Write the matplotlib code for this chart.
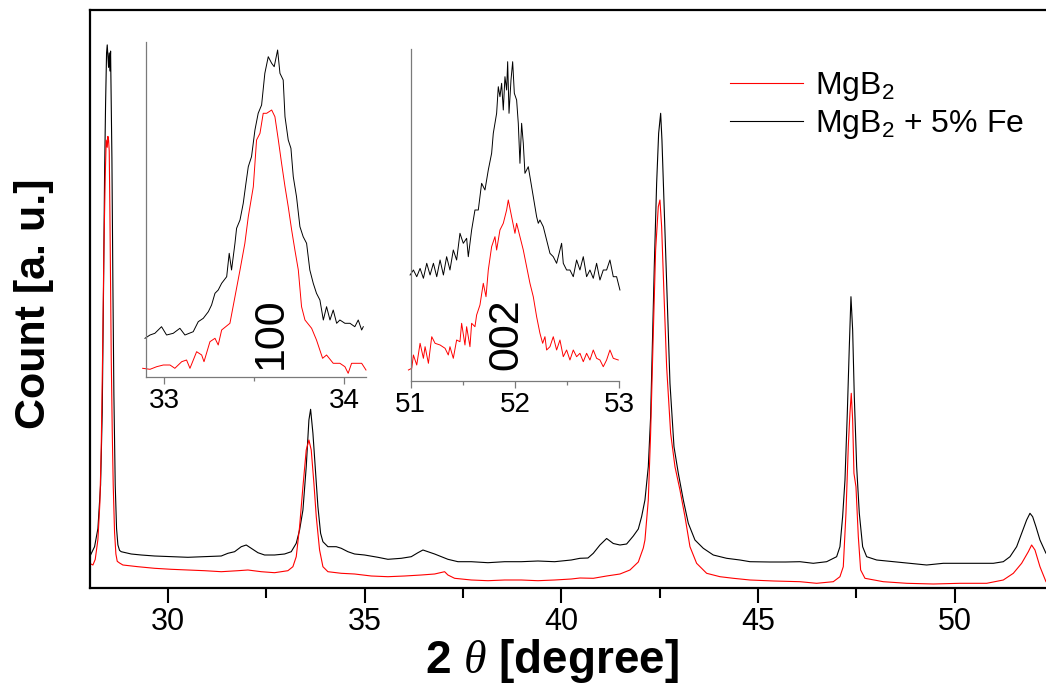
import matplotlib
matplotlib.use("Agg")
import matplotlib.pyplot as plt
from matplotlib.ticker import MultipleLocator

# ---- main pattern (2theta in degree, count in arb. units) ----
tt_fe = [28.034, 28.136, 28.221, 28.289, 28.331, 28.365, 28.390, 28.416, 28.441, 28.458,
         28.492, 28.509, 28.526, 28.543, 28.560, 28.577, 28.602, 28.627, 28.661, 28.695,
         28.729, 28.771, 28.814, 29.068, 29.322, 29.661, 30.085, 30.508, 30.932, 31.356,
         31.525, 31.695, 31.864, 31.991, 32.118, 32.288, 32.457, 32.711, 32.966, 33.135,
         33.262, 33.347, 33.432, 33.516, 33.584, 33.627, 33.686, 33.754, 33.813, 33.881,
         33.940, 34.067, 34.279, 34.406, 34.575, 34.745, 34.999, 35.338, 35.592, 35.931,
         36.185, 36.355, 36.482, 36.609, 36.779, 36.948, 37.117, 37.372, 37.711, 38.134,
         38.558, 38.982, 39.405, 39.829, 40.253, 40.473, 40.676, 40.812, 40.981, 41.151,
         41.320, 41.490, 41.659, 41.829, 41.956, 42.040, 42.125, 42.210, 42.269, 42.320,
         42.362, 42.422, 42.473, 42.524, 42.557, 42.608, 42.676, 42.761, 42.863, 42.973,
         43.100, 43.227, 43.396, 43.608, 43.862, 44.201, 44.540, 44.794, 45.300, 45.700,
         46.065, 46.403, 46.743, 46.997, 47.081, 47.149, 47.209, 47.268, 47.319, 47.361,
         47.404, 47.446, 47.506, 47.573, 47.658, 47.760, 48.014, 48.438, 48.861, 49.285,
         49.709, 50.132, 50.556, 50.980, 51.233, 51.403, 51.572, 51.699, 51.826, 51.911,
         51.979, 52.063, 52.165, 52.318, 52.420]
cnt_fe = [33, 41.3, 59.4, 103, 175.6, 302.7, 411.6, 484.3, 535.1, 543.1,
          520.6, 535.1, 517, 536.9, 484.3, 429.8, 302.7, 193.8, 103, 59.4,
          43.1, 37.6, 36.3, 34, 33, 32, 31.3, 30.7, 31.3, 32,
          34.7, 36.3, 41.3, 43, 39.7, 35.3, 33, 33, 34, 36.3,
          44.7, 58, 78, 121.3, 168, 178.7, 154.7, 114.7, 81.3, 54.7,
          46.3, 41.3, 41.3, 39.7, 36.3, 34, 33, 30.7, 28.7, 29.7,
          31.3, 35.3, 38, 36.3, 34, 31.3, 28.7, 26.3, 26.3, 25.3,
          26.3, 26.3, 27, 26.3, 28, 29.7, 30, 34.7, 43, 49.5,
          44.5, 43, 44, 52, 59, 71.3, 88, 121.3, 171.3, 254.7,
          321.3, 404.7, 454.7, 474.7, 448, 388, 304.7, 204.7, 141.3, 114.7,
          88, 64.7, 48, 39.7, 33, 29.7, 28, 26.3, 26, 26,
          26.3, 24.7, 26.3, 31.3, 41.3, 71.3, 108, 174.7, 241.3, 291.3,
          258, 191.3, 121.3, 74.7, 41.3, 31.3, 28, 26.3, 24.7, 23,
          24.7, 24.7, 24.7, 24.7, 26.3, 31.3, 41.3, 54.7, 68, 74.7,
          71.3, 61.3, 48, 34.7, 33]

tt_pure = [28.009, 28.094, 28.153, 28.221, 28.271, 28.305, 28.339, 28.373, 28.407, 28.432,
           28.458, 28.475, 28.492, 28.509, 28.526, 28.543, 28.560, 28.585, 28.610, 28.644,
           28.678, 28.712, 28.771, 28.856, 29.237, 29.661, 30.085, 30.508, 30.932, 31.356,
           31.779, 32.034, 32.372, 32.711, 33.050, 33.177, 33.262, 33.347, 33.432, 33.516,
           33.584, 33.643, 33.711, 33.771, 33.855, 33.940, 34.067, 34.406, 34.745, 35.169,
           35.592, 36.016, 36.440, 36.779, 37.033, 37.117, 37.287, 37.711, 38.134, 38.558,
           38.982, 39.405, 39.829, 40.253, 40.473, 40.812, 41.151, 41.490, 41.744, 41.956,
           42.083, 42.125, 42.210, 42.269, 42.337, 42.396, 42.464, 42.506, 42.549, 42.608,
           42.676, 42.778, 42.888, 43.015, 43.142, 43.269, 43.438, 43.693, 44.032, 44.371,
           44.794, 45.400, 46.065, 46.488, 46.912, 47.081, 47.166, 47.234, 47.293, 47.335,
           47.369, 47.404, 47.437, 47.488, 47.548, 47.607, 47.717, 48.183, 48.777, 49.455,
           50.132, 50.811, 51.233, 51.488, 51.699, 51.869, 51.953, 52.038, 52.165, 52.318,
           52.420]
cnt_pure = [24.7, 23, 28.6, 48.5, 84.8, 139.3, 230.1, 339, 411.6, 447.9,
            440.7, 451.6, 447.9, 437, 375.3, 302.7, 230.1, 157.5, 103, 55.8,
            34, 26.7, 25, 23, 21.3, 19.7, 18.7, 18, 17.3, 16.3,
            17.3, 18, 16.3, 15.3, 17.3, 21.3, 31.3, 61.3, 101.3, 138,
            148, 138, 104.7, 71.3, 38, 21.3, 16.3, 14.7, 14, 12,
            11.3, 12, 13, 14, 16.3, 13, 9.7, 8, 7.3, 8,
            8, 7.3, 8, 9, 10, 9.7, 12, 14, 18, 26,
            40, 48, 88, 154.7, 254.7, 338, 381.3, 388, 361.3, 294.7,
            221.3, 154.7, 121.3, 98, 71.3, 41.3, 24.7, 14.7, 11.3, 9.7,
            8, 7, 6.3, 4.7, 6.3, 11.3, 21.3, 74.7, 141.3, 174.7,
            194.7, 168, 114.7, 101.3, 51.3, 18, 9.7, 6.3, 4.7, 4,
            4.7, 4.7, 8, 14.7, 24.7, 36.3, 43, 38, 21.3, 6.3,
            4]

# ---- inset (100) ----
in1_tt_fe = [32.893, 32.921, 32.948, 32.985, 33.013, 33.050, 33.087, 33.115, 33.161, 33.189,
             33.217, 33.245, 33.263, 33.282, 33.300, 33.319, 33.347, 33.361, 33.374, 33.393,
             33.402, 33.421, 33.439, 33.454, 33.467, 33.485, 33.504, 33.522, 33.541, 33.559,
             33.578, 33.597, 33.611, 33.630, 33.643, 33.661, 33.671, 33.689, 33.704, 33.717,
             33.735, 33.754, 33.772, 33.791, 33.809, 33.828, 33.846, 33.865, 33.884, 33.902,
             33.921, 33.939, 33.958, 33.976, 34.004, 34.032, 34.059, 34.078, 34.097, 34.106]
in1_cnt_fe = [38.7, 42, 43.7, 50.3, 42, 43.7, 48.7, 42, 45.3, 55.3,
              58.7, 65.3, 72, 83.7, 87, 93.7, 100.3, 123.7, 107, 133.7,
              148.7, 157, 173.7, 193.7, 210.3, 220.3, 247, 263.7, 272, 303.7,
              320.3, 313.7, 310.3, 327, 303.7, 297, 260.3, 237, 228.7, 200.3,
              180.3, 150.3, 140.3, 133.7, 107, 93.7, 83.7, 77, 57, 70.3,
              57, 67, 53.7, 57, 53.7, 53.7, 50.3, 57, 47, 50.3]
in1_tt_pure = [32.880, 32.921, 32.958, 32.995, 33.032, 33.059, 33.097, 33.124, 33.143, 33.180,
               33.208, 33.221, 33.254, 33.282, 33.300, 33.319, 33.365, 33.393, 33.421, 33.448,
               33.467, 33.495, 33.513, 33.532, 33.550, 33.569, 33.597, 33.615, 33.634, 33.652,
               33.671, 33.689, 33.708, 33.726, 33.745, 33.763, 33.782, 33.819, 33.846, 33.880,
               33.902, 33.939, 33.976, 34.004, 34.022, 34.041, 34.069, 34.097, 34.121]
in1_cnt_pure = [8.7, 7.7, 10.3, 12, 12, 8.7, 15.3, 17, 8.7, 25.3,
                22, 15.3, 35.3, 38.7, 32, 47, 53.7, 80.3, 107, 133.7,
                160.3, 190.3, 237, 243.7, 263.7, 263.7, 267, 260.3, 237, 213.7,
                190.3, 170.3, 147, 127, 107, 70.3, 57, 48.7, 37, 18.7,
                22, 13.7, 13.7, 10.3, 3.7, 13.7, 13.7, 13.7, 7]

# ---- inset (002) ----
in2_tt_fe = [50.994, 51.026, 51.058, 51.090, 51.122, 51.154, 51.186, 51.218, 51.250, 51.282,
             51.314, 51.345, 51.377, 51.409, 51.441, 51.473, 51.505, 51.537, 51.553, 51.585,
             51.617, 51.649, 51.681, 51.713, 51.745, 51.777, 51.793, 51.825, 51.841, 51.857,
             51.873, 51.889, 51.905, 51.921, 51.931, 51.944, 51.963, 51.979, 51.995, 52.017,
             52.033, 52.049, 52.065, 52.081, 52.097, 52.129, 52.161, 52.177, 52.209, 52.225,
             52.241, 52.273, 52.305, 52.337, 52.369, 52.401, 52.433, 52.449, 52.465, 52.497,
             52.529, 52.561, 52.593, 52.625, 52.657, 52.689, 52.721, 52.753, 52.785, 52.817,
             52.849, 52.881, 52.913, 52.945, 52.977, 53.009]
in2_cnt_fe = [105.7, 110.7, 104, 112.3, 102.4, 117.4, 105.7, 117.4, 104, 120.7,
              105.7, 124, 110.7, 130.7, 120.7, 147.4, 137.4, 142.4, 124, 150.7,
              170.7, 170.7, 197.4, 190.7, 210.7, 227.4, 247.4, 267.4, 294, 284,
              297.4, 270.7, 304, 290.7, 319, 267.4, 300.7, 319, 287.4, 280.7,
              257.4, 217.4, 257.4, 237.4, 207.4, 214, 194, 184, 164, 157.4,
              160.7, 154, 140.7, 127.4, 124, 117.4, 130.7, 137.4, 117.4, 110.7,
              110.7, 104, 120.7, 110.7, 124, 104, 110.7, 102.4, 117.4, 100.7,
              110.7, 110.7, 120.7, 104, 104, 90.7]
in2_tt_pure = [50.978, 51.010, 51.026, 51.058, 51.090, 51.122, 51.138, 51.170, 51.202, 51.234,
               51.282, 51.330, 51.361, 51.377, 51.409, 51.441, 51.473, 51.489, 51.521, 51.537,
               51.569, 51.585, 51.617, 51.633, 51.665, 51.697, 51.723, 51.745, 51.777, 51.809,
               51.825, 51.857, 51.889, 51.921, 51.937, 51.969, 52.001, 52.017, 52.049, 52.081,
               52.113, 52.145, 52.177, 52.209, 52.241, 52.267, 52.289, 52.305, 52.337, 52.369,
               52.401, 52.433, 52.465, 52.497, 52.529, 52.561, 52.593, 52.625, 52.657, 52.689,
               52.721, 52.753, 52.785, 52.817, 52.849, 52.881, 52.913, 52.945, 52.993]
in2_cnt_pure = [10.7, 12.4, 25.7, 15.7, 37.4, 22.4, 34, 17.4, 44, 37.4,
                35.7, 32.4, 25.7, 34, 22.4, 40.7, 39, 57.4, 35.7, 54,
                34, 57.4, 54, 65.7, 75.7, 97.4, 84, 110.7, 134, 144,
                130.7, 150.7, 157.4, 170.7, 180.7, 164, 147.4, 157.4, 144, 130.7,
                114, 97.4, 84, 64, 47.4, 37.4, 44, 30.7, 34, 44,
                30.7, 40.7, 24, 30.7, 20.7, 30.7, 24, 27.4, 19, 27.4,
                20.7, 30.7, 22.4, 20.7, 14, 20.7, 30.7, 22.4, 20.7]

labels = ['MgB$_2$', 'MgB$_2$ + 5% Fe']

plt.rcParams['font.family'] = ['Liberation Sans', 'DejaVu Sans']
plt.rcParams['mathtext.fontset'] = 'custom'
plt.rcParams['mathtext.rm'] = 'Liberation Sans'
plt.rcParams['mathtext.it'] = 'Liberation Serif:italic'
plt.rcParams['mathtext.bf'] = 'Liberation Sans:bold'
plt.rcParams['mathtext.default'] = 'regular'

W, H = 1046, 686
fig = plt.figure(figsize=(W / 100, H / 100), dpi=100)

# main axes, right edge runs off the picture like the original crop
ax = fig.add_axes([90 / W, 98 / H, 960 / W, 578 / H])
l_fe, = ax.plot(tt_fe, cnt_fe, color='black', lw=0.8)
l_pure, = ax.plot(tt_pure, cnt_pure, color='red', lw=0.8)
ax.set_xlim(28.02, 52.42)
ax.set_ylim(0, 578)
ax.xaxis.set_major_locator(MultipleLocator(5))
ax.xaxis.set_minor_locator(MultipleLocator(2.5))
ax.tick_params(axis='x', which='major', direction='out', length=11, width=1.5,
               labelsize=22, pad=3)
ax.tick_params(axis='x', which='minor', direction='out', length=7, width=1.5)
ax.tick_params(axis='y', left=False, labelleft=False)
for s in ax.spines.values():
    s.set_linewidth(1.6)

fig.text(552 / W, 1 - 661 / H, r'2 $\mathit{\theta}$ [degree]', fontsize=33,
         fontweight='bold', ha='center', va='center')
fig.text(34 / W, 1 - 304 / H, 'Count [a. u.]', fontsize=31, fontweight='bold',
         rotation=90, ha='center', va='center')

leg = ax.legend([l_pure, l_fe], labels, loc='upper left',
                bbox_to_anchor=(730 / W, 1 - 70 / H), bbox_transform=fig.transFigure,
                frameon=False, fontsize=23, handlelength=2.3, handletextpad=0.35,
                labelspacing=0.15, borderpad=0, borderaxespad=0)


def inset(rect, xlim, ylim, xf, yf, xp, yp, txt, tx, ty):
    a = fig.add_axes(rect)
    a.set_facecolor('none')
    a.plot(xf, yf, color='black', lw=0.7, clip_on=False)
    a.plot(xp, yp, color='red', lw=0.7, clip_on=False)
    a.set_xlim(*xlim)
    a.set_ylim(*ylim)
    for side in ['top', 'right']:
        a.spines[side].set_visible(False)
    for side in ['left', 'bottom']:
        a.spines[side].set_color('#7a7a7a')
        a.spines[side].set_linewidth(0.9)
    a.xaxis.set_major_locator(MultipleLocator(1))
    a.xaxis.set_minor_locator(MultipleLocator(0.5))
    a.tick_params(axis='x', which='major', direction='out', length=5, width=0.9,
                  color='#7a7a7a', labelsize=20, pad=3)
    a.tick_params(axis='x', which='minor', direction='out', length=3, width=0.9,
                  color='#7a7a7a')
    a.tick_params(axis='y', left=False, labelleft=False)
    a.text(tx, ty, txt, transform=a.transAxes, rotation=90, fontsize=31,
           ha='center', va='center')
    return a


inset([145.7 / W, 309 / H, 220.1 / W, 335 / H], (32.897, 34.12), (0, 335),
      in1_tt_fe, in1_cnt_fe, in1_tt_pure, in1_cnt_pure, '100', 0.57, 0.13)
inset([410.7 / W, 305.3 / H, 208.3 / W, 331.4 / H], (51, 53), (0, 331.4),
      in2_tt_fe, in2_cnt_fe, in2_tt_pure, in2_cnt_pure, '002', 0.46, 0.14)

fig.savefig('out.png', dpi=100)
